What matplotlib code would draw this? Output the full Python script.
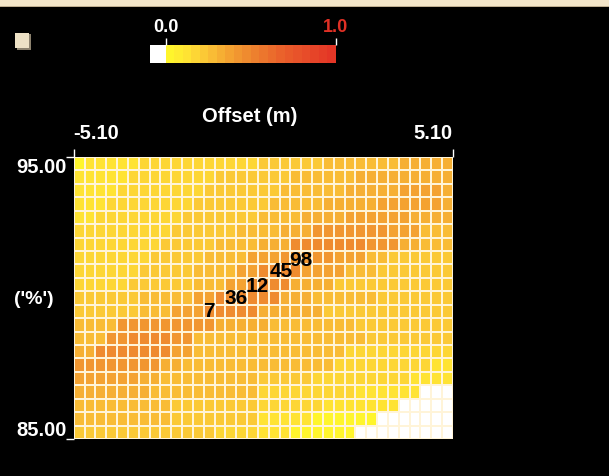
import numpy as np
import matplotlib as mpl
mpl.use('Agg')
import matplotlib.pyplot as plt
from matplotlib.colors import LinearSegmentedColormap
from matplotlib.patches import Rectangle

W, H = 609, 477

offset_min, offset_max = -5.10, 5.10
pct_min, pct_max = 85.00, 95.00
x_tick_labels = ['-5.10', '5.10']
y_tick_labels = ['85.00', '95.00']
cbar_tick_labels = ['0.0', '1.0']

# cell levels as (level, run length), top row (95 %) first
# level None = empty (white) cell
level_runs = [
    [(0, 1), (1, 5), (2, 11), (3, 6), (4, 7), (5, 5)],
    [(1, 5), (2, 8), (3, 7), (4, 6), (5, 9)],
    [(1, 4), (2, 8), (3, 7), (4, 6), (5, 5), (6, 4), (5, 1)],
    [(1, 3), (2, 8), (3, 7), (4, 5), (5, 5), (6, 6), (5, 1)],
    [(1, 2), (2, 8), (3, 7), (4, 4), (5, 4), (6, 6), (5, 4)],
    [(2, 9), (3, 6), (4, 4), (5, 3), (7, 7), (6, 3), (4, 3)],
    [(2, 8), (3, 5), (4, 4), (5, 3), (8, 7), (7, 3), (5, 2), (4, 3)],
    [(2, 7), (3, 5), (4, 4), (6, 3), (7, 5), (6, 3), (4, 2), (3, 6)],
    [(2, 6), (3, 5), (4, 4), (6, 2), (8, 4), (6, 4), (4, 3), (3, 7)],
    [(2, 5), (3, 6), (4, 3), (6, 2), (8, 4), (5, 4), (3, 11)],
    [(3, 6), (4, 5), (6, 2), (8, 6), (5, 3), (4, 6), (3, 7)],
    [(3, 6), (4, 3), (6, 3), (8, 5), (5, 6), (3, 12)],
    [(4, 4), (7, 9), (5, 5), (4, 8), (3, 9)],
    [(4, 3), (7, 2), (8, 4), (7, 2), (4, 16), (3, 8)],
    [(5, 2), (8, 7), (6, 2), (4, 14), (2, 10)],
    [(7, 8), (5, 2), (4, 14), (2, 9), (1, 2)],
    [(6, 6), (5, 2), (4, 9), (3, 5), (2, 9), (1, 4)],
    [(5, 7), (4, 10), (2, 9), (1, 6), (None, 3)],
    [(4, 9), (3, 8), (2, 6), (1, 7), (None, 5)],
    [(4, 9), (3, 8), (1, 5), (0, 6), (None, 7)],
    [(3, 13), (2, 4), (1, 3), (0, 6), (None, 9)],
]
level_values = [0.03, 0.10, 0.16, 0.22, 0.27, 0.32, 0.37, 0.42, 0.47, 0.52]

point_labels = ['7', '36', '12', '45', '98']
point_x = [-1.46, -0.74, -0.17, 0.47, 1.01]
point_y = [89.54, 90.00, 90.46, 90.96, 91.38]

plt.rcParams['font.family'] = ['Liberation Sans', 'DejaVu Sans']
plt.rcParams['font.weight'] = 'bold'

cmap = LinearSegmentedColormap.from_list(
    'yor', [(0.0, '#FFF52C'), (0.1, '#FFE433'), (0.2, '#FCCC36'),
            (0.3, '#F7B334'), (0.4, '#F29A30'), (0.5, '#EE852E'),
            (0.7, '#EA5F2B'), (1.0, '#E43626')], N=20)
cmap.set_bad('white')
cmap.set_under('white')


def px_axes(fig, x0, y0, x1, y1):
    return fig.add_axes([x0 / W, 1 - y1 / H, (x1 - x0) / W, (y1 - y0) / H])


rows = []
for runs in level_runs:
    row = []
    for lev, n in runs:
        row += [np.nan if lev is None else level_values[lev]] * n
    rows.append(row)
grid = np.ma.masked_invalid(np.array(rows)[::-1])

fig = plt.figure(figsize=(W / 100, H / 100), dpi=100, facecolor='black')

# beige strip on top and the small button
fig.patches.append(Rectangle((0, 1 - 7 / H), 1, 7 / H, transform=fig.transFigure,
                             facecolor='#F4E6CA', edgecolor='none'))
fig.patches.append(Rectangle((0, 1 - 8 / H), 1, 1 / H, transform=fig.transFigure,
                             facecolor='#BFAE90', edgecolor='none'))
fig.patches.append(Rectangle((17 / W, 1 - 51 / H), 14 / W, 16 / H, transform=fig.transFigure,
                             facecolor='#8C826E', edgecolor='none'))
fig.patches.append(Rectangle((15 / W, 1 - 49 / H), 14 / W, 15 / H, transform=fig.transFigure,
                             facecolor='#EEE2C6', edgecolor='none'))

# main heatmap
ax = px_axes(fig, 73.7, 158, 453, 440)
ax.set_facecolor('white')
xe = np.linspace(offset_min, offset_max, grid.shape[1] + 1)
ye = np.linspace(pct_min, pct_max, grid.shape[0] + 1)
ax.pcolormesh(xe, ye, grid, cmap=cmap, vmin=0, vmax=1,
              edgecolors='#FFF4D8', linewidth=1.3)
ax.set_xlim(offset_min, offset_max)
ax.set_ylim(pct_min, pct_max)
for s in ax.spines.values():
    s.set_visible(False)

ax.xaxis.tick_top()
ax.set_xticks([offset_min, offset_max])
ax.set_xticklabels(x_tick_labels)
ax.set_yticks([pct_min, pct_max])
ax.set_yticklabels(y_tick_labels)
ax.tick_params(colors='white', length=6, width=1, labelsize=14.5, pad=-1)
ax.tick_params(axis='x', pad=5)
xl = ax.get_xticklabels()
xl[0].set_ha('left')
xl[1].set_ha('right')
yl = ax.get_yticklabels()
yl[0].set_va('bottom')
yl[1].set_va('top')

for lab, x, y in zip(point_labels, point_x, point_y):
    ax.text(x, y, lab, ha='center', va='center', fontsize=15, color='black')

fig.text(250 / W, 1 - 116 / H, 'Offset (m)', ha='center', va='center',
         fontsize=14.5, color='white')
fig.text(34 / W, 1 - 299 / H, "('%')", ha='center', va='center',
         fontsize=14, color='white')

# colour scale
cax = px_axes(fig, 150, 45.7, 336, 64.3)
steps = cmap.N
cb_edges = np.r_[-0.094, np.linspace(0, 1, steps + 1)]
cb_vals = np.r_[-1, (np.arange(steps) + 0.5) / steps]
cax.pcolormesh(cb_edges, [0, 1], cb_vals[np.newaxis, :], cmap=cmap, vmin=0, vmax=1)
cax.set_xlim(cb_edges[0], 1)
for s in cax.spines.values():
    s.set_visible(False)
cax.set_yticks([])
cax.xaxis.tick_top()
cax.set_xticks([0, 1])
cax.set_xticklabels(cbar_tick_labels)
cax.tick_params(colors='white', length=5, width=1, labelsize=13, pad=2)
cax.get_xticklabels()[1].set_color('#E03025')

fig.savefig('out.png', dpi=100, facecolor='black')
